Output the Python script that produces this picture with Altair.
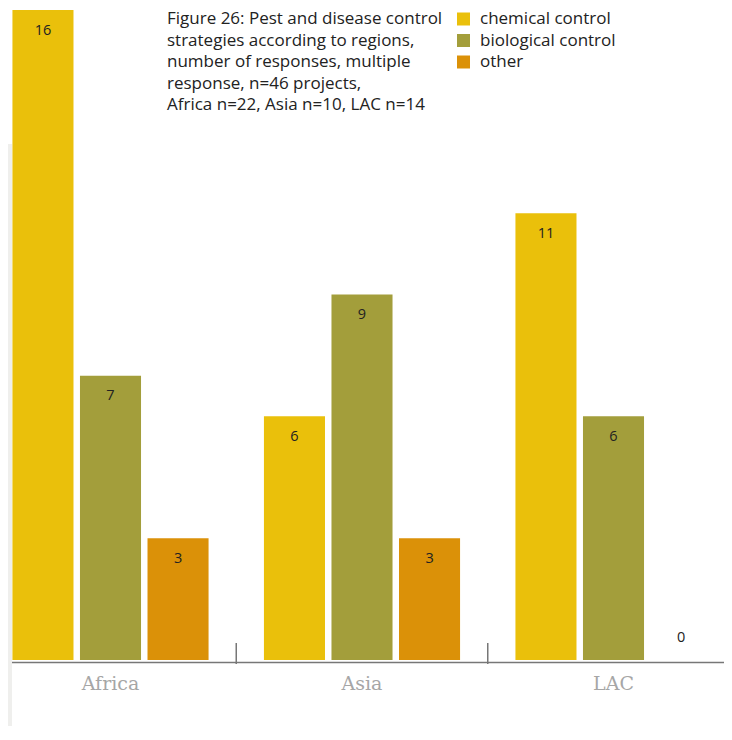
import altair as alt
import pandas as pd

regions = ["Africa", "Asia", "LAC"]
strategies = ["chemical control", "biological control", "other"]
chemical = [16, 6, 11]
biological = [7, 9, 6]
other = [3, 3, 0]
colors = ["#EAC00B", "#A39E3B", "#DB9108"]
title_lines = [
    "Figure 26: Pest and disease control",
    "strategies according to regions,",
    "number of responses, multiple",
    "response, n=46 projects,",
    "Africa n=22, Asia n=10, LAC n=14",
]

rows = []
for i, r in enumerate(regions):
    for s, vals in zip(strategies, [chemical, biological, other]):
        rows.append({"region": r, "strategy": s, "value": vals[i]})
df = pd.DataFrame(rows)

xscale = alt.Scale(domain=regions, range=[-23.25, 731.25], paddingInner=0, paddingOuter=0)
xaxis = alt.Axis(title=None, labelAngle=0, ticks=False, domainColor="#777777", domainWidth=1.5,
                 offset=2, labelFont="DejaVu Serif", labelFontSize=19, labelColor="#a6a6a6",
                 labelPadding=12, grid=False)
x = alt.X("region:N", sort=regions, scale=xscale, axis=xaxis)
xo = alt.XOffset("strategy:N", sort=strategies,
                 scale=alt.Scale(domain=strategies, paddingInner=0.096, paddingOuter=0.41))
y = alt.Y("value:Q", scale=alt.Scale(domain=[0, 16], nice=False), axis=None)
color = alt.Color("strategy:N", sort=strategies,
                  scale=alt.Scale(domain=strategies, range=colors),
                  legend=alt.Legend(orient="none", legendX=447, legendY=0.5, title=None,
                                    symbolType="square", symbolSize=169, symbolStrokeWidth=0,
                                    symbolOpacity=1,
                                    labelFontSize=17, labelFont="Open Sans", labelColor="#222222",
                                    rowPadding=3.5, labelOffset=8))

strip = alt.Chart(pd.DataFrame({"a": [0]})).mark_rect(color="#efefed").encode(
    x=alt.value(0), x2=alt.value(4), y=alt.value(134), y2=alt.value(730))

bars = alt.Chart(df).mark_bar().encode(x=x, xOffset=xo, y=y, color=color)

zero = alt.Chart(df).transform_filter("datum.value == 0").mark_bar(color="#f5dfb3").encode(
    x=x, xOffset=xo, y=y, y2=alt.value(648))

seps = alt.Chart(pd.DataFrame({"region": regions[1:]})).mark_rule(color="#777777", strokeWidth=1.5).encode(
    x=alt.X("region:N", sort=regions, scale=xscale, axis=xaxis, bandPosition=0),
    y=alt.value(633), y2=alt.value(654))

labels = alt.Chart(df).transform_filter("datum.value > 0").mark_text(
    dy=20.5, fontSize=14.5, font="Open Sans", color="#222222").encode(
    x=x, xOffset=xo, y=y, text="value:Q")
labels0 = alt.Chart(df).transform_filter("datum.value == 0").mark_text(
    dy=-22, fontSize=14.5, font="Open Sans", color="#222222").encode(
    x=x, xOffset=xo, y=y, text="value:Q")

title = alt.Chart(pd.DataFrame({"t": ["\n".join(title_lines)]})).mark_text(
    lineBreak="\n", align="left", baseline="top", lineHeight=21.5, fontSize=17,
    font="Open Sans", color="#222222").encode(
    x=alt.value(159), y=alt.value(1), text="t:N")

chart = alt.layer(strip, bars, zero, seps, labels, labels0, title).properties(
    width=716, height=650, autosize=alt.AutoSizeParams(type="none"),
    padding={"left": 0, "top": 2, "right": 0, "bottom": 66},
).configure_view(stroke=None)

chart.save("out.html", embed_options={"renderer": "svg", "actions": False})
